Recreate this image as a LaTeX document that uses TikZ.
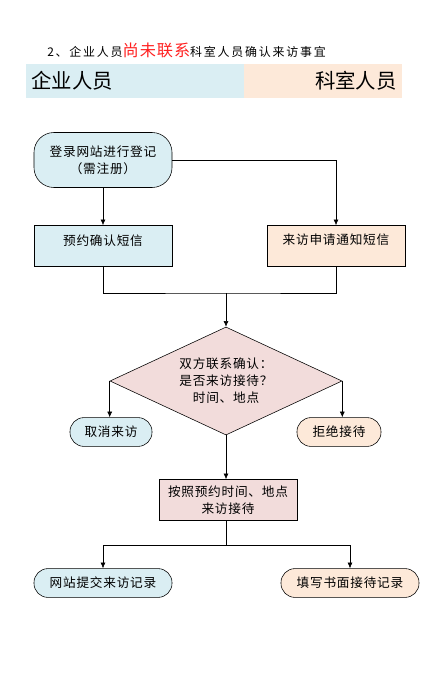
\documentclass[tikz,border=0pt]{standalone}
\usepackage{fontspec}
\setmainfont{Noto Sans CJK SC}
\usetikzlibrary{positioning, shapes.geometric, arrows.meta}
\definecolor{qiyeblue}{HTML}{DAEEF3}
\definecolor{keshipeach}{HTML}{FDE9D9}
\definecolor{lianxipink}{HTML}{F2DCDB}
\definecolor{biaotired}{HTML}{FF2020}
\tikzset{
	liu/.style={draw, thin, font=\fontsize{9}{12}\selectfont\addfontfeature{LetterSpace=6}, align=center, inner sep=2pt},
	kuang/.style={liu, rectangle, minimum width=3.45cm, minimum height=1.025cm},
	yuan/.style={liu, rounded corners=0.35cm, minimum height=0.72cm},
	jiantou/.style={draw, -{Latex[length=4pt, width=3.5pt]}}
}

\begin{document}
\begin{tikzpicture}[x=0.025cm, y=-0.025cm]
		\useasboundingbox (0,0) rectangle (440,684);
		\node[anchor=west, inner sep=0] (biaoti) at (47,50) {\fontsize{8.5}{10}\selectfont\addfontfeature{LetterSpace=15}2、企业人员\textcolor{biaotired}{\fontsize{11.5}{13}\selectfont\addfontfeature{LetterSpace=6}尚未联系}科室人员确认来访事宜};
		\fill[qiyeblue] (26,64) rectangle (244,98);
		\fill[keshipeach] (244,64) rectangle (402,98);
		\node[anchor=west, inner sep=0, font=\fontsize{14.5}{16}\selectfont] (qiye) at (31,81) {企业人员};
		\node[anchor=east, inner sep=0, font=\fontsize{14.5}{16}\selectfont] (keshi) at (397,81) {科室人员};
		\node[liu, fill=qiyeblue, rounded corners=0.5cm, minimum width=3.45cm, minimum height=1.375cm] (denglu) at (103,160) {登录网站进行登记\\（需注册）};
		\node[kuang, fill=qiyeblue] (yuyue) at (103,246) {预约确认短信\\[-3pt]\mbox{}};
		\node[kuang, fill=keshipeach] (tongzhi) at (336,246) {来访申请通知短信\\[-3pt]\mbox{}};
		\coordinate (huiju) at (226,293);
		\node[liu, diamond, fill=lianxipink, minimum width=5.8cm, minimum height=2.7cm, inner sep=0, aspect=2.15] (lianxi) at (226,381) {双方联系确认：\\是否来访接待？\\时间、地点};
		\node[yuan, fill=qiyeblue, minimum width=2.05cm] (quxiao) at (111,432) {取消来访};
		\node[yuan, fill=keshipeach, minimum width=2.1cm] (jujue) at (339,432) {拒绝接待};
		\node[kuang, fill=lianxipink] (jiedai) at (228,500) {按照预约时间、地点\\来访接待};
		\coordinate (fenzhi) at (226,545);
		\node[yuan, fill=qiyeblue, minimum width=3.45cm] (wangzhan) at (103,583) {网站提交来访记录};
		\node[yuan, fill=keshipeach, minimum width=3.45cm] (shumian) at (350,583) {填写书面接待记录};
		\draw[jiantou] (denglu) -- (yuyue);
		\draw[jiantou] (denglu.east) -| (tongzhi);
		\draw (yuyue) |- (huiju) -| (tongzhi);
		\draw[jiantou] (huiju) -- (lianxi);
		\draw[jiantou] (lianxi.west) -- (lianxi.west |- quxiao.north);
		\draw[jiantou] (lianxi.east) -- (lianxi.east |- jujue.north);
		\draw[jiantou] (lianxi.south) -- (lianxi.south |- jiedai.north);
		\draw (jiedai.south -| fenzhi) -- (fenzhi);
		\draw[jiantou] (fenzhi) -| (wangzhan);
		\draw[jiantou] (fenzhi) -| (shumian);
	\end{tikzpicture}
\end{document}
